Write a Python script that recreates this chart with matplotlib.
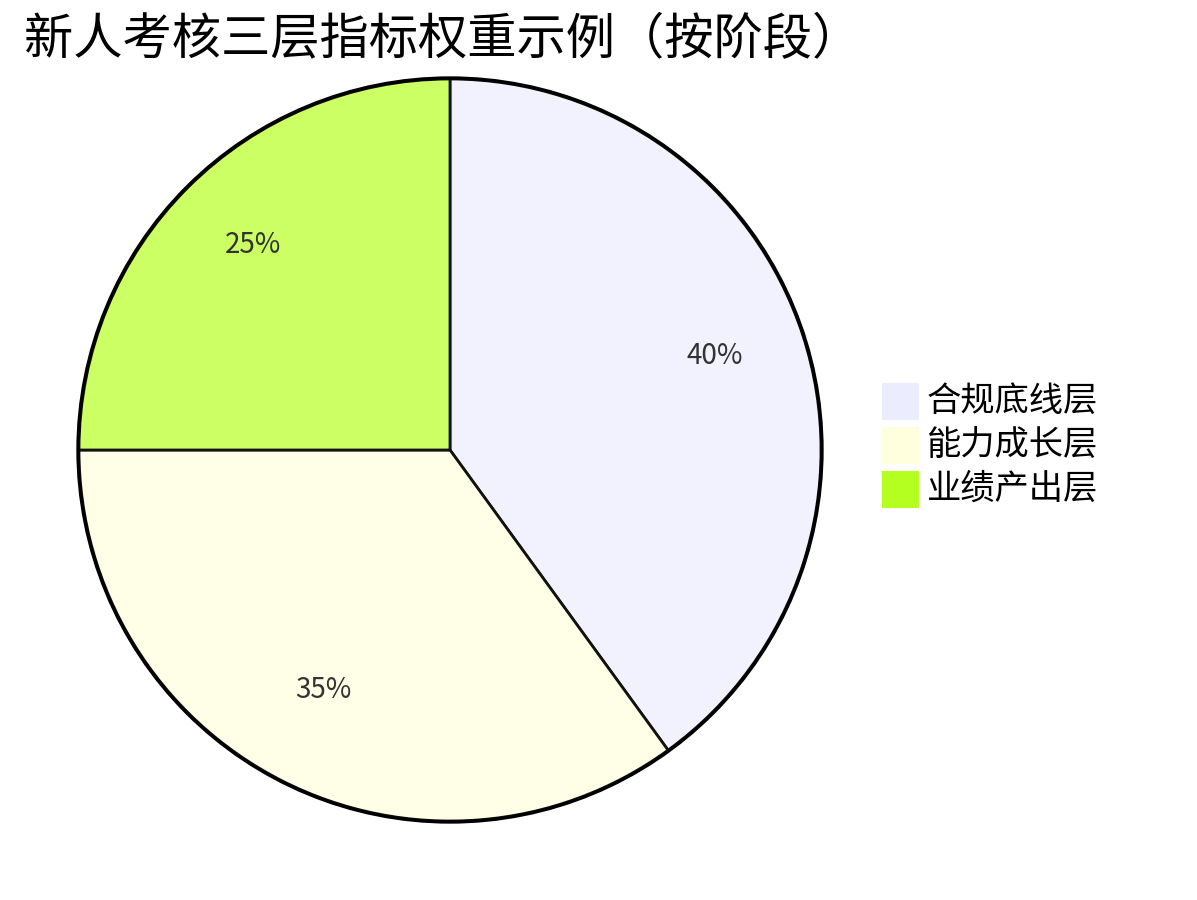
import matplotlib
matplotlib.use('Agg')
import matplotlib.pyplot as plt
from matplotlib.patches import Circle, Rectangle

plt.rcParams['font.family'] = ['Noto Sans CJK SC', 'DejaVu Sans']

title = '新人考核三层指标权重示例（按阶段）'
labels = ['合规底线层', '能力成长层', '业绩产出层']
values = [40, 35, 25]
colors = ['#ECECFF', '#FFFFDE', '#B5FF20']
# slices are drawn at 0.7 opacity over white
slice_colors = ['#F2F2FF', '#FFFFE8', '#CBFF63']

fig = plt.figure(figsize=(11.97, 9), dpi=100)
ax = fig.add_axes([0, 0, 1, 1])

cx, cy, r = 450, 450, 371
wedges, _, autotexts = ax.pie(
    values, colors=slice_colors, center=(cx, cy), radius=r,
    startangle=-90, counterclock=True, autopct='%1.0f%%', pctdistance=0.75,
    wedgeprops=dict(edgecolor='#111111', linewidth=2.0),
    textprops=dict(fontsize=20, color='#333333'))
for t in autotexts:
    t.set_va('baseline')

ax.add_patch(Circle((cx, cy), r + 1, fill=False, edgecolor='black', linewidth=2.4))

ax.set_xlim(0, 1197)
ax.set_ylim(900, 0)
ax.set_aspect('equal')
ax.axis('off')

ax.text(24, 54, title, fontsize=35.5, color='black', ha='left', va='baseline')

# 图例
for i, (lab, col) in enumerate(zip(labels, colors)):
    y0 = 383 + 44 * i
    ax.add_patch(Rectangle((882, y0), 37, 37, facecolor=col, edgecolor='none'))
    ax.text(927, y0 + 18.5, lab, fontsize=24.7, color='black', ha='left', va='center')

plt.savefig('out.png', dpi=100)
plt.close()
